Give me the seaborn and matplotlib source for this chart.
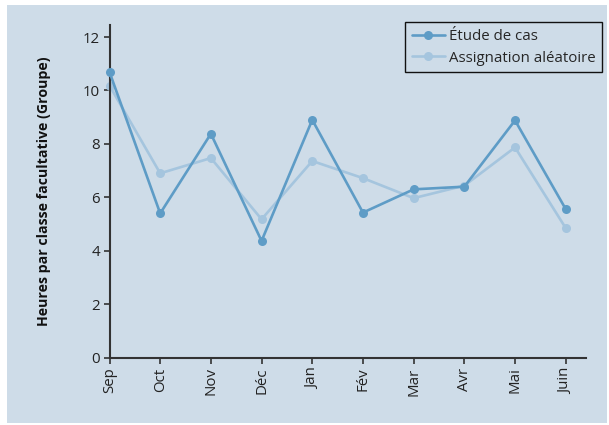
import matplotlib
matplotlib.use("Agg")
import matplotlib.pyplot as plt
import seaborn as sns
import pandas as pd
from matplotlib.patches import Rectangle

months = ["Sep", "Oct", "Nov", "Déc", "Jan", "Fév", "Mar", "Avr", "Mai", "Juin"]
etude = [10.69, 5.4, 8.38, 4.37, 8.9, 5.43, 6.3, 6.4, 8.88, 5.56]
assign = [10.18, 6.9, 7.47, 5.18, 7.36, 6.72, 5.97, 6.44, 7.87, 4.85]
series_names = ["Étude de cas", "Assignation aléatoire"]
yticks = [0, 2, 4, 6, 8, 10, 12]

bg = "#cedce8"
dark = "#5e9cc6"
light = "#a5c5de"

sns.set_style("ticks")
plt.rcParams["font.family"] = ["Open Sans", "DejaVu Sans"]

df = pd.DataFrame({
    "x": list(range(len(months))) * 2,
    "val": etude + assign,
    "serie": [series_names[0]] * len(months) + [series_names[1]] * len(months),
})

fig = plt.figure(figsize=(6.09, 4.25), dpi=100)
fig.patch.set_facecolor("white")
fig.add_artist(Rectangle((7 / 609, 2 / 425), 600 / 609, 418 / 425,
                         transform=fig.transFigure, facecolor=bg,
                         edgecolor="none", zorder=-10))

ax = fig.add_axes([109.5 / 609, 1 - 357.7 / 425, (586 - 109.5) / 609, (357.7 - 25) / 425])
ax.set_zorder(5)
ax.set_facecolor(bg)
ax.patch.set_alpha(0)

sns.lineplot(data=df, x="x", y="val", hue="serie", hue_order=series_names,
             palette=[dark, light], marker="o", markersize=6.5,
             markeredgewidth=0, linewidth=1.9, ax=ax, legend=True)
for line in ax.get_lines():
    line.set_clip_on(False)
    if line.get_color() == dark:
        line.set_zorder(3)

ax.set_xlim(0, 9.4)
ax.set_ylim(0, 12.45)
ax.set_xticks(range(len(months)))
ax.set_xticklabels(months, rotation=90)
ax.set_yticks(yticks)
ax.set_yticklabels([str(v) for v in yticks])
ax.set_xlabel("")
ax.set_ylabel("Heures par classe facultative (Groupe)", fontsize=10.2,
              fontweight="bold", color="#111111", labelpad=23)

for s in ["top", "right"]:
    ax.spines[s].set_visible(False)
for s in ["left", "bottom"]:
    ax.spines[s].set_color("#333333")
    ax.spines[s].set_linewidth(1.5)
ax.tick_params(axis="both", direction="out", length=4, width=1.2,
               color="#333333", labelcolor="#222222", labelsize=10.8, pad=3)

leg = ax.legend(loc="upper right", bbox_to_anchor=(602 / 609, 1 - 22 / 425),
                bbox_transform=fig.transFigure, fontsize=10.8, frameon=True,
                fancybox=False, borderpad=0.45, handlelength=2.2,
                handletextpad=0.25, labelspacing=0.45, borderaxespad=0)
frame = leg.get_frame()
frame.set_edgecolor("#111111")
frame.set_linewidth(1.0)
frame.set_facecolor(bg)
frame.set_alpha(1)

fig.savefig("out.png", dpi=100, facecolor="white")
